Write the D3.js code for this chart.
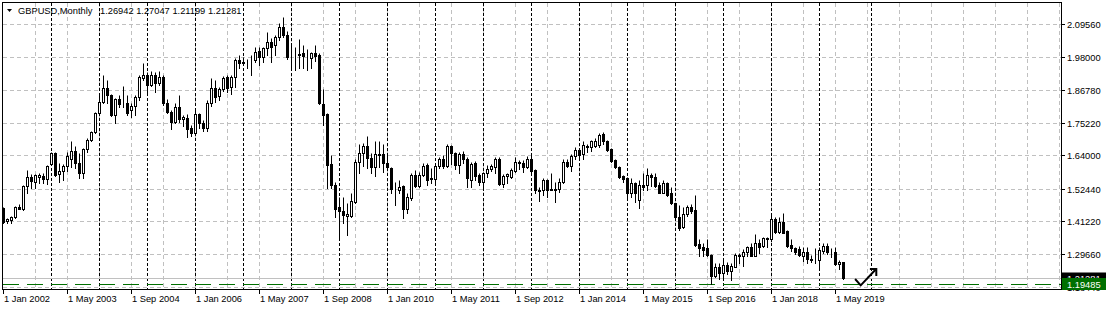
<!DOCTYPE html>
<html>
<head>
<meta charset="utf-8">
<script src="https://cdn.jsdelivr.net/npm/d3@7"></script>
<style>
  html, body { margin: 0; padding: 0; background: #fff; }
  svg { display: block; font-family: "Liberation Sans", Arial, sans-serif; }
</style>
</head>
<body>
<svg id="chart"></svg>
<script>
// GBPUSD monthly bars, Jan 2002 .. Jul 2019
var opens = [
  1.456,1.411,1.416,1.425,1.460,1.454,1.534,1.564,1.549,1.566,1.568,1.557,
  1.609,1.647,1.575,1.586,1.603,1.626,1.656,1.612,1.580,1.661,1.693,1.722,
  1.786,1.826,1.873,1.849,1.780,1.834,1.820,1.820,1.797,1.811,1.841,1.907,
  1.919,1.884,1.919,1.892,1.911,1.820,1.792,1.757,1.807,1.765,1.768,1.734,
  1.719,1.783,1.753,1.736,1.823,1.873,1.846,1.869,1.911,1.876,1.911,1.971,
  1.962,1.965,1.966,1.971,2.003,1.982,2.011,2.034,2.023,2.049,2.084,2.057,
  1.990,1.992,1.990,1.994,1.990,1.976,1.996,1.988,1.818,1.783,1.610,1.537,
  1.462,1.448,1.430,1.430,1.478,1.618,1.647,1.674,1.630,1.598,1.645,1.645,
  1.615,1.595,1.520,1.518,1.534,1.453,1.491,1.572,1.534,1.572,1.607,1.559,
  1.557,1.603,1.628,1.603,1.672,1.647,1.605,1.645,1.626,1.555,1.612,1.572,
  1.549,1.578,1.592,1.601,1.627,1.540,1.568,1.566,1.587,1.617,1.615,1.601,
  1.626,1.589,1.518,1.518,1.554,1.520,1.522,1.522,1.549,1.618,1.604,1.639,
  1.659,1.645,1.670,1.668,1.672,1.676,1.713,1.690,1.661,1.624,1.601,1.568,
  1.560,1.508,1.545,1.485,1.537,1.537,1.572,1.566,1.537,1.511,1.545,1.508,
  1.474,1.427,1.390,1.437,1.460,1.450,1.333,1.323,1.318,1.294,1.222,1.254,
  1.233,1.260,1.237,1.254,1.294,1.289,1.303,1.321,1.291,1.337,1.326,1.352,
  1.349,1.418,1.375,1.407,1.378,1.329,1.320,1.314,1.291,1.306,1.279,1.279,
  1.277,1.309,1.326,1.303,1.306,1.263,1.26942
];
var highs = [
  1.460,1.422,1.430,1.464,1.472,1.537,1.589,1.575,1.575,1.578,1.580,1.608,
  1.653,1.653,1.615,1.610,1.653,1.691,1.674,1.647,1.664,1.699,1.726,1.791,
  1.857,1.919,1.901,1.853,1.838,1.849,1.881,1.849,1.820,1.849,1.919,1.959,
  1.930,1.934,1.930,1.934,1.919,1.837,1.797,1.820,1.849,1.780,1.783,1.745,
  1.803,1.786,1.763,1.832,1.907,1.901,1.878,1.915,1.919,1.919,1.977,1.988,
  1.982,1.973,1.988,2.015,2.015,2.015,2.069,2.046,2.057,2.098,2.121,2.072,
  2.031,2.017,2.043,2.023,2.008,2.000,2.023,1.994,1.869,1.786,1.641,1.549,
  1.497,1.497,1.476,1.510,1.626,1.679,1.682,1.707,1.647,1.688,1.688,1.679,
  1.641,1.601,1.549,1.555,1.537,1.508,1.578,1.589,1.583,1.612,1.615,1.595,
  1.612,1.633,1.641,1.678,1.676,1.652,1.650,1.656,1.635,1.618,1.621,1.580,
  1.583,1.605,1.609,1.635,1.635,1.575,1.580,1.595,1.633,1.624,1.624,1.638,
  1.647,1.592,1.531,1.560,1.557,1.578,1.549,1.560,1.626,1.626,1.644,1.670,
  1.664,1.688,1.680,1.693,1.699,1.716,1.721,1.693,1.664,1.626,1.603,1.572,
  1.566,1.560,1.549,1.555,1.580,1.595,1.578,1.578,1.549,1.555,1.549,1.529,
  1.476,1.468,1.462,1.468,1.471,1.502,1.349,1.337,1.349,1.298,1.265,1.265,
  1.277,1.271,1.265,1.300,1.302,1.314,1.326,1.337,1.367,1.349,1.356,1.358,
  1.441,1.427,1.425,1.439,1.381,1.349,1.323,1.326,1.323,1.323,1.294,1.318,
  1.323,1.335,1.337,1.318,1.321,1.277,1.27047
];
var lows = [
  1.404,1.406,1.406,1.422,1.453,1.450,1.510,1.526,1.526,1.545,1.543,1.541,
  1.606,1.568,1.549,1.555,1.586,1.601,1.595,1.560,1.560,1.653,1.688,1.719,
  1.780,1.823,1.820,1.776,1.751,1.809,1.809,1.780,1.772,1.780,1.832,1.901,
  1.849,1.881,1.861,1.884,1.815,1.786,1.730,1.751,1.757,1.740,1.705,1.707,
  1.711,1.734,1.723,1.726,1.811,1.826,1.832,1.864,1.861,1.853,1.876,1.942,
  1.954,1.942,1.919,1.965,1.953,1.965,1.988,1.965,1.988,2.040,2.052,1.973,
  1.936,1.936,1.942,1.942,1.936,1.942,1.968,1.818,1.745,1.525,1.526,1.427,
  1.349,1.406,1.364,1.425,1.474,1.580,1.603,1.595,1.578,1.568,1.601,1.583,
  1.589,1.508,1.467,1.508,1.422,1.439,1.485,1.529,1.531,1.568,1.537,1.545,
  1.543,1.595,1.595,1.598,1.610,1.594,1.578,1.612,1.531,1.531,1.554,1.537,
  1.519,1.564,1.584,1.580,1.536,1.529,1.543,1.560,1.583,1.591,1.583,1.597,
  1.578,1.508,1.483,1.502,1.497,1.518,1.479,1.514,1.545,1.601,1.587,1.626,
  1.624,1.626,1.653,1.656,1.670,1.670,1.679,1.656,1.618,1.595,1.560,1.549,
  1.497,1.497,1.479,1.456,1.520,1.520,1.534,1.531,1.508,1.508,1.499,1.471,
  1.422,1.381,1.387,1.431,1.439,1.326,1.289,1.289,1.291,1.194,1.217,1.210,
  1.208,1.228,1.208,1.252,1.268,1.256,1.289,1.289,1.289,1.300,1.321,1.321,
  1.344,1.370,1.370,1.370,1.321,1.309,1.298,1.291,1.275,1.265,1.271,1.265,
  1.245,1.300,1.298,1.286,1.260,1.245,1.21199
];
var closes = [
  1.407,1.418,1.425,1.460,1.455,1.534,1.564,1.552,1.572,1.572,1.557,1.604,
  1.649,1.572,1.586,1.603,1.638,1.656,1.612,1.578,1.661,1.693,1.722,1.786,
  1.826,1.873,1.849,1.780,1.834,1.818,1.821,1.786,1.811,1.844,1.911,1.919,
  1.884,1.919,1.890,1.911,1.820,1.792,1.757,1.807,1.765,1.774,1.730,1.716,
  1.783,1.751,1.734,1.823,1.873,1.844,1.869,1.907,1.873,1.911,1.971,1.959,
  1.965,1.964,1.968,2.000,1.982,2.011,2.034,2.017,2.049,2.084,2.057,1.982,
  1.992,1.991,1.988,1.985,1.992,1.994,1.985,1.820,1.780,1.607,1.537,1.453,
  1.448,1.433,1.436,1.482,1.618,1.647,1.674,1.630,1.598,1.645,1.641,1.615,
  1.598,1.522,1.518,1.529,1.453,1.494,1.572,1.534,1.572,1.603,1.555,1.560,
  1.603,1.626,1.603,1.672,1.647,1.605,1.645,1.626,1.560,1.610,1.568,1.549,
  1.578,1.592,1.604,1.628,1.540,1.568,1.574,1.589,1.617,1.615,1.601,1.626,
  1.587,1.518,1.517,1.554,1.518,1.522,1.520,1.549,1.618,1.604,1.639,1.659,
  1.641,1.675,1.671,1.689,1.691,1.712,1.688,1.659,1.622,1.601,1.564,1.557,
  1.508,1.545,1.508,1.537,1.529,1.572,1.564,1.534,1.511,1.545,1.503,1.474,
  1.425,1.387,1.437,1.460,1.448,1.329,1.318,1.312,1.294,1.222,1.254,1.233,
  1.260,1.237,1.256,1.294,1.289,1.304,1.321,1.291,1.337,1.323,1.352,1.351,
  1.418,1.375,1.407,1.372,1.326,1.318,1.303,1.294,1.306,1.279,1.278,1.280,
  1.312,1.326,1.303,1.304,1.262,1.271,1.21281
];

// price scale labels (MT4 style)
var priceTicks  = [2.0956, 1.98, 1.8678, 1.7522, 1.64, 1.5244, 1.4122, 1.2966, 1.1844];
var priceLabels = ["2.09560","1.98000","1.86780","1.75220","1.64000","1.52440","1.41220","1.29660","1.18440"];

// time scale labels, placed at bar index
var timeTickIdx = [0,16,32,48,64,80,96,112,128,144,160,176,192,208];
var timeLabels  = ["1 Jan 2002","1 May 2003","1 Sep 2004","1 Jan 2006","1 May 2007","1 Sep 2008",
                   "1 Jan 2010","1 May 2011","1 Sep 2012","1 Jan 2014","1 May 2015","1 Sep 2016",
                   "1 Jan 2018","1 May 2019"];

// yearly period separators (bar index)
var separatorIdx = [12,24,36,48,60,72,84,96,108,120,132,144,156,168,180,192,204,217];

var bidPrice = 1.21281;
var hlinePrice = 1.19485;
var headerText = "1.26942 1.27047 1.21199 1.21281";

// drawn arrow object (bar index / price)
var arrowIdx   = [212.9, 214.3, 218.1];
var arrowPrice = [1.2109, 1.1890, 1.2446];
var arrowHeadIdx   = [216.6, 218.2, 218.2];
var arrowHeadPrice = [1.2455, 1.2455, 1.2213];

var W = 1107, H = 311;
var plot = { left: 2.5, top: 2.5, right: 1061.5, bottom: 289.5 };

var svg = d3.select("#chart").attr("width", W).attr("height", H);

var x = d3.scaleLinear().domain([0, 1]).range([3.5, 7.5]);
var y = d3.scaleLinear().domain([1.2966, 2.0956]).range([254.3, 24]);
var py = function(v) { return Math.round(y(v)) + 0.5; };

var clip = svg.append("clipPath").attr("id", "plotclip")
  .append("rect").attr("x", 3).attr("y", 3).attr("width", 1058).attr("height", 286);

var g = svg.append("g").attr("clip-path", "url(#plotclip)");

// horizontal grid
g.selectAll("line.hgrid").data(priceTicks).enter().append("line")
  .attr("x1", 3).attr("x2", 1061)
  .attr("y1", d => py(d)).attr("y2", d => py(d))
  .style("stroke", "#c0c0c0").style("stroke-dasharray", "4,3");

// vertical grid every 8 bars
var vgrid = d3.range(8, 265, 8);
g.selectAll("line.vgrid").data(vgrid).enter().append("line")
  .attr("x1", d => x(d)).attr("x2", d => x(d))
  .attr("y1", 3).attr("y2", 289)
  .style("stroke", "#c0c0c0").style("stroke-dasharray", "4,3");

// period separators
g.selectAll("line.sep").data(separatorIdx).enter().append("line")
  .attr("x1", d => x(d)).attr("x2", d => x(d))
  .attr("y1", 3).attr("y2", 289)
  .style("stroke", "#000").style("stroke-dasharray", "3,2");

// bid line
g.append("line")
  .attr("x1", 3).attr("x2", 1061)
  .attr("y1", py(bidPrice)).attr("y2", py(bidPrice))
  .style("stroke", "#c0c0c0");

// user horizontal line
g.append("line")
  .attr("x1", 3).attr("x2", 1061)
  .attr("y1", py(hlinePrice)).attr("y2", py(hlinePrice))
  .style("stroke", "#007000").style("stroke-dasharray", "16,8");

// candles
var bars = d3.range(closes.length);
var cg = g.selectAll("g.bar").data(bars).enter().append("g");
cg.append("line")
  .attr("x1", i => x(i)).attr("x2", i => x(i))
  .attr("y1", i => py(highs[i])).attr("y2", i => py(lows[i]) + 0.5)
  .style("stroke", "#000");
cg.append("rect")
  .attr("x", i => x(i) - 1)
  .attr("width", 2)
  .attr("y", i => Math.min(py(opens[i]), py(closes[i])))
  .attr("height", i => Math.abs(py(opens[i]) - py(closes[i])))
  .style("fill", i => closes[i] < opens[i] ? "#000" : "#fff")
  .style("stroke", "#000");

// arrow object
var arrowLine = d3.line().x(d => x(d[0])).y(d => y(d[1]));
g.append("path")
  .attr("d", arrowLine(d3.zip(arrowIdx, arrowPrice)))
  .style("fill", "none").style("stroke", "#000").style("stroke-width", 2);
g.append("path")
  .attr("d", arrowLine(d3.zip(arrowHeadIdx, arrowHeadPrice)))
  .style("fill", "none").style("stroke", "#000").style("stroke-width", 2);

// frame
svg.append("rect")
  .attr("x", plot.left).attr("y", plot.top)
  .attr("width", plot.right - plot.left).attr("height", plot.bottom - plot.top)
  .style("fill", "none").style("stroke", "#000");

// price axis
svg.selectAll("line.ptick").data(priceTicks).enter().append("line")
  .attr("x1", 1062).attr("x2", 1065)
  .attr("y1", d => py(d)).attr("y2", d => py(d))
  .style("stroke", "#000");
svg.selectAll("text.plabel").data(priceTicks).enter().append("text")
  .attr("x", 1067).attr("y", d => py(d) + 3.5)
  .style("font-size", "9.3px").style("fill", "#000")
  .text((d, i) => priceLabels[i]);

// current price label (black) and horizontal line label (green)
svg.append("rect").attr("x", 1062).attr("y", py(bidPrice) - 6).attr("width", 44).attr("height", 12)
  .style("fill", "#000");
svg.append("text").attr("x", 1067).attr("y", py(bidPrice) + 3.5)
  .style("font-size", "9.3px").style("fill", "#fff").text(bidPrice.toFixed(5));
svg.append("rect").attr("x", 1062).attr("y", py(hlinePrice) - 6.5).attr("width", 44).attr("height", 12)
  .style("fill", "#007000");
svg.append("text").attr("x", 1067).attr("y", py(hlinePrice) + 3.5)
  .style("font-size", "9.3px").style("fill", "#fff").text(hlinePrice.toFixed(5));

// time axis
svg.selectAll("line.ttick").data(timeTickIdx).enter().append("line")
  .attr("x1", d => x(d)).attr("x2", d => x(d))
  .attr("y1", 290).attr("y2", 294)
  .style("stroke", "#000");
svg.selectAll("text.tlabel").data(timeTickIdx).enter().append("text")
  .attr("x", d => x(d) + 0.5).attr("y", 302)
  .style("font-size", "9.3px").style("fill", "#000")
  .text((d, i) => timeLabels[i]);

// header
svg.append("path").attr("d", "M7,9 L12,9 L9.5,12 Z").style("fill", "#000");
svg.append("text").attr("x", 18).attr("y", 13.5)
  .style("font-size", "9.3px").style("fill", "#000").text("GBPUSD,Monthly");
svg.append("text").attr("x", 100).attr("y", 13.5)
  .style("font-size", "9.3px").style("fill", "#000").text(headerText);
</script>
</body>
</html>
